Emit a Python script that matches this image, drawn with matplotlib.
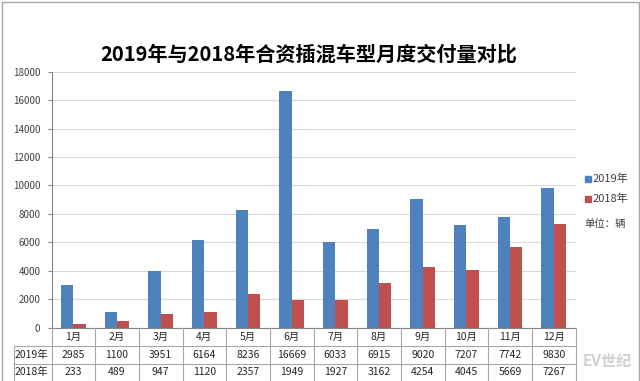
import matplotlib
matplotlib.use("Agg")
import matplotlib.pyplot as plt
import numpy as np
from matplotlib.patches import Rectangle

plt.rcParams['font.family'] = ['Noto Sans CJK SC', 'DejaVu Sans']

months = ["1月", "2月", "3月", "4月", "5月", "6月", "7月", "8月", "9月", "10月", "11月", "12月"]
v2019 = [2985, 1100, 3951, 6164, 8236, 16669, 6033, 6915, 9020, 7207, 7742, 9830]
v2018 = [233, 489, 947, 1120, 2357, 1949, 1927, 3162, 4254, 4045, 5669, 7267]
series_names = ["2019年", "2018年"]
title = "2019年与2018年合资插混车型月度交付量对比"
unit = "单位：辆"

W, H = 640, 381
fig = plt.figure(figsize=(W / 100, H / 100), dpi=100)

# plot area in pixels
L, R, T, B = 51.5, 575.5, 71.7, 327.5
ax = fig.add_axes([L / W, 1 - B / H, (R - L) / W, (B - T) / H])

x = np.arange(len(months))
bw = 0.28
blue, red = "#4F81BD", "#C0504D"
ax.bar(x - bw / 2, v2019, bw, color=blue, zorder=3, label=series_names[0])
ax.bar(x + bw / 2, v2018, bw, color=red, zorder=3, label=series_names[1])
ax.set_xlim(-0.5, len(months) - 0.5)
ax.set_ylim(0, 18000)
ax.set_yticks(np.arange(0, 18001, 2000))
ax.yaxis.grid(True, color="#d9d9d9", linewidth=0.8, zorder=0)
ax.set_xticks([])
for s in ["top", "right", "bottom"]:
    ax.spines[s].set_visible(False)
ax.spines["left"].set_color("#868686")
ax.spines["left"].set_linewidth(0.8)
ax.tick_params(axis="y", length=3, width=0.8, color="#868686", pad=5,
               labelsize=7, labelcolor="#404040")

# overlay in pixel coordinates for table, legend, title, frame
ov = fig.add_axes([0, 0, 1, 1], zorder=5)
ov.set_xlim(0, W)
ov.set_ylim(H, 0)
ov.axis("off")
ov.patch.set_alpha(0)

lc = "#a6a6a6"
colw = (R - L) / len(months)
row_y = [B, 345.5, 363.5, 381]
left_x = 14
# horizontal lines
ov.plot([L, R], [B, B], color="#868686", lw=0.8)
for yy in row_y[1:3]:
    ov.plot([left_x, R], [yy, yy], color=lc, lw=0.8)
ov.plot([left_x, left_x], [row_y[1], H], color=lc, lw=0.8)
for k in range(len(months) + 1):
    xx = L + k * colw
    ov.plot([xx, xx], [B, H], color=lc, lw=0.8)

for i, m in enumerate(months):
    cx = L + (i + 0.5) * colw
    ov.text(cx, (row_y[0] + row_y[1]) / 2, m, ha="center", va="center",
            fontsize=7.5, color="#262626")
    ov.text(cx, (row_y[1] + row_y[2]) / 2, str(v2019[i]), ha="center", va="center",
            fontsize=7.5, color="#262626")
    ov.text(cx, (row_y[2] + row_y[3]) / 2, str(v2018[i]), ha="center", va="center",
            fontsize=7.5, color="#262626")
ov.text(left_x + 1, (row_y[1] + row_y[2]) / 2, series_names[0], ha="left", va="center",
        fontsize=7.5, color="#262626")
ov.text(left_x + 1, (row_y[2] + row_y[3]) / 2, series_names[1], ha="left", va="center",
        fontsize=7.5, color="#262626")

# title
ov.text(308.5, 54, title, ha="center", va="center", fontsize=14.5, fontweight="bold",
        color="#000000")

# legend
for j, (name, c) in enumerate(zip(series_names, [blue, red])):
    yy = 179 + j * 20
    ov.add_patch(Rectangle((585, yy - 3), 6, 6, color=c))
    ov.text(593, yy, name, ha="left", va="center", fontsize=8, color="#404040")
ov.text(584, 224, unit, ha="left", va="center", fontsize=7.5, color="#404040")

# watermark
ov.text(607, 361, "EV世纪", ha="center", va="center", fontsize=11, fontstyle="italic",
        fontweight="bold", color="#d0d0d0")

# outer frame
ov.add_patch(Rectangle((1.5, 1.5), W - 3, H + 5, fill=False, edgecolor="#a6a6a6", lw=1))

fig.savefig("out.png", dpi=100)
